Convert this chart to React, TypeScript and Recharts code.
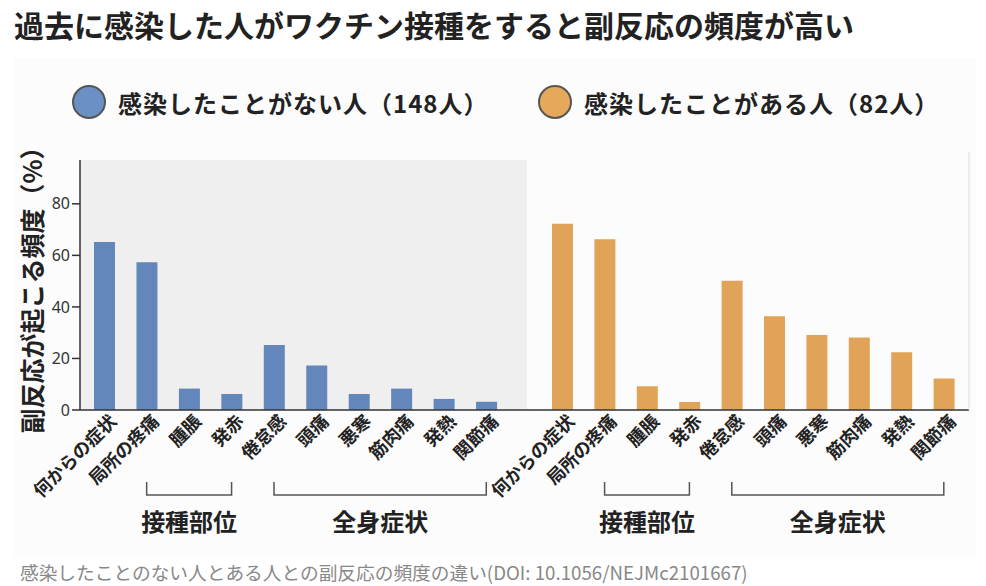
import React from 'react';
import { BarChart, Bar, XAxis, YAxis, CartesianGrid } from 'recharts';

const categories = ['何からの症状', '局所の疼痛', '腫脹', '発赤', '倦怠感', '頭痛', '悪寒', '筋肉痛', '発熱', '関節痛'];
const naiveValues = [65.2, 57.3, 8.3, 6.2, 25.2, 17.3, 6.2, 8.3, 4.3, 3.2];
const priorValues = [72.2, 66.2, 9.2, 3.1, 50.1, 36.3, 29.1, 28.1, 22.4, 12.2];
const yTicks = [0, 20, 40, 60, 80];
const seriesNames = ['感染したことがない人（148人）', '感染したことがある人（82人）'];
const seriesColors = ['#6387BB', '#E0A357'];
const legendColors = ['#6A90C6', '#E6A95C'];
const groups = [
  { label: '接種部位', from: 1, to: 3 },
  { label: '全身症状', from: 4, to: 9 },
];

const FONT = '"Noto Sans CJK JP", "Noto Sans", sans-serif';

const naiveData = categories.map((name, i) => ({ name, value: naiveValues[i] }));
const priorData = categories.map((name, i) => ({ name, value: priorValues[i] }));

// band widths follow from the plot sizes and paddings below
const LEFT_BAND = (527 - 80 - 3 - 19.5) / 10;
const RIGHT_BAND = (969 - 527 - 14 - 4) / 10;

const makeTick = (band: number) => (props: any) => {
  const { x, y, payload, index } = props;
  const group = groups.find((g) => g.from === index);
  return (
    <g>
      <text
        transform={`translate(${x + 9},${y}) rotate(-45)`}
        textAnchor="end"
        dy="0.35em"
        fontSize={18}
        fontWeight={700}
        fill="#222"
        fontFamily={FONT}
      >
        {payload.value}
      </text>
      {group && (
        <g>
          <path
            d={`M${x},${y + 64} V${y + 77} H${x + (group.to - group.from) * band} V${y + 64}`}
            fill="none"
            stroke="#555"
            strokeWidth={1.5}
          />
          <text
            x={x + ((group.to - group.from) * band) / 2}
            y={y + 105}
            dy="0.35em"
            textAnchor="middle"
            fontSize={24}
            fontWeight={700}
            fill="#222"
            fontFamily={FONT}
          >
            {group.label}
          </text>
        </g>
      )}
    </g>
  );
};

const YLabel = (props: any) => {
  const { viewBox } = props;
  const cx = viewBox.x + 33;
  const cy = viewBox.y + viewBox.height / 2 - 1;
  return (
    <text
      x={cx}
      y={cy}
      transform={`rotate(-90, ${cx}, ${cy})`}
      textAnchor="middle"
      dy="0.35em"
      fontSize={25}
      fontWeight={700}
      fill="#222"
      fontFamily={FONT}
    >
      副反応が起こる頻度（%）
    </text>
  );
};

const App = () => {
  return (
    <div style={{ position: 'absolute', left: 0, top: 0, width: 986, height: 586, background: '#fff', overflow: 'hidden', fontFamily: FONT }}>
      <div style={{ position: 'absolute', left: 14, top: 58, width: 962, height: 498, background: '#fcfcfc' }} />
      <div style={{ position: 'absolute', left: 14, top: 6, fontSize: 30, fontWeight: 700, color: '#222', lineHeight: '36px', whiteSpace: 'nowrap' }}>
        過去に感染した人がワクチン接種をすると副反応の頻度が高い
      </div>

      {seriesNames.map((name, i) => (
        <div key={name} style={{ position: 'absolute', left: i === 0 ? 72 : 538, top: 85, height: 34, display: 'flex', alignItems: 'center', whiteSpace: 'nowrap' }}>
          <span style={{ width: 30, height: 30, borderRadius: '50%', background: legendColors[i], border: '2px solid #555', display: 'inline-block' }} />
          <span style={{ marginLeft: 12, fontSize: 24, letterSpacing: 1, fontWeight: 700, color: '#222' }}>{name}</span>
        </div>
      ))}

      <div style={{ position: 'absolute', left: 0, top: 0 }}>
        <BarChart width={540} height={586} data={naiveData} margin={{ top: 160, right: 13, bottom: 146, left: 0 }}>
          <CartesianGrid horizontal={false} vertical={false} fill="#efefef" />
          <XAxis
            dataKey="name"
            interval={0}
            height={30}
            padding={{ left: 3, right: 19.5 }}
            axisLine={{ stroke: '#333', strokeWidth: 1.5 }}
            tickLine={false}
            tick={makeTick(LEFT_BAND)}
          />
          <YAxis
            domain={[0, 97]}
            ticks={yTicks}
            width={80}
            tickSize={8}
            axisLine={{ stroke: '#333', strokeWidth: 1.5 }}
            tickLine={{ stroke: '#333', strokeWidth: 1.5 }}
            tick={{ fontSize: 16, fill: '#333', fontFamily: '"Noto Sans", sans-serif' }}
            label={<YLabel />}
          />
          <Bar dataKey="value" name={seriesNames[0]} fill={seriesColors[0]} barSize={21} isAnimationActive={false} />
        </BarChart>
      </div>

      <div style={{ position: 'absolute', left: 470, top: 0 }}>
        <BarChart width={500} height={586} data={priorData} margin={{ top: 152, right: 0, bottom: 146, left: 57 }}>
          <XAxis
            dataKey="name"
            interval={0}
            height={30}
            padding={{ left: 14, right: 4 }}
            axisLine={{ stroke: '#333', strokeWidth: 1.5 }}
            tickLine={false}
            tick={makeTick(RIGHT_BAND)}
          />
          <YAxis
            orientation="right"
            domain={[0, 100]}
            width={1}
            tick={false}
            tickLine={false}
            axisLine={{ stroke: '#ddd', strokeWidth: 1 }}
          />
          <Bar dataKey="value" name={seriesNames[1]} fill={seriesColors[1]} barSize={21} isAnimationActive={false} />
        </BarChart>
      </div>

      <div style={{ position: 'absolute', left: 20, top: 560, fontSize: 18.7, color: '#888', whiteSpace: 'nowrap', lineHeight: '24px' }}>
        感染したことのない人とある人との副反応の頻度の違い(DOI: 10.1056/NEJMc2101667)
      </div>
    </div>
  );
};

export default App;
